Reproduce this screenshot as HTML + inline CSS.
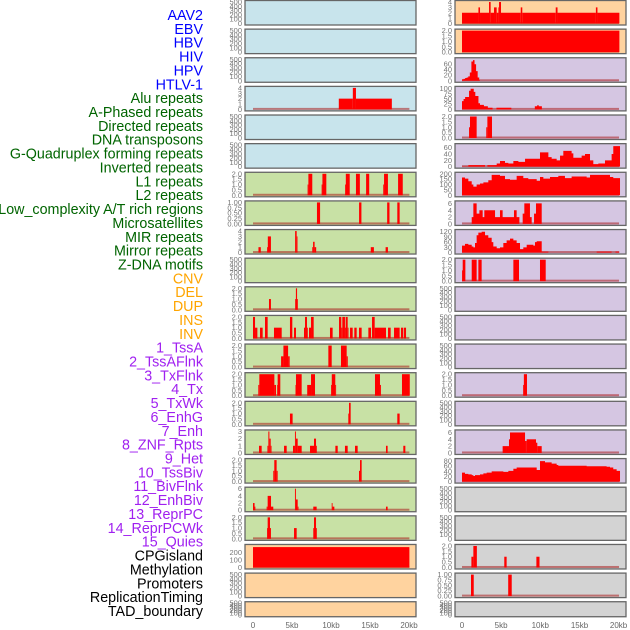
<!DOCTYPE html>
<html><head><meta charset="utf-8"><style>
body{margin:0;background:#fff;width:630px;height:630px;overflow:hidden}
svg{display:block;font-family:"Liberation Sans",sans-serif}
</style></head><body>
<svg id="chart" width="630" height="630"></svg>
<script>
// ---- labels ----
const labels=["AAV2","EBV","HBV","HIV","HPV","HTLV-1","Alu repeats","A-Phased repeats","Directed repeats","DNA transposons","G-Quadruplex forming repeats","Inverted repeats","L1 repeats","L2 repeats","Low_complexity A/T rich regions","Microsatellites","MIR repeats","Mirror repeats","Z-DNA motifs","CNV","DEL","DUP","INS","INV","1_TssA","2_TssAFlnk","3_TxFlnk","4_Tx","5_TxWk","6_EnhG","7_Enh","8_ZNF_Rpts","9_Het","10_TssBiv","11_BivFlnk","12_EnhBiv","13_ReprPC","14_ReprPCWk","15_Quies","CPGisland","Methylation","Promoters","ReplicationTiming","TAD_boundary"];
const labelColors=["#0000ff","#006400","#ffa500","#a020f0","#000000"];
const labelGroupEnds=[6,19,24,39,44];
const xTicks=[0,5,10,15,20];
const xTickLabels=["0","5kb","10kb","15kb","20kb"];
// ---- segment data [startKb,endKb,value] ----
const L3=[[11.0,12.8,2],[12.8,13.2,4],[13.2,17.8,2]];
const L6=[[7.0,7.1,1],[7.1,7.6,2],[8.8,8.9,1],[8.9,9.4,2],[11.8,11.9,1],[11.9,12.4,2],[13.2,13.7,2],[14.5,14.9,2],[16.7,16.8,1],[16.8,17.3,2],[18.6,19.2,2]];
const L7=[[8.2,8.6,1],[13.6,13.9,1],[17.2,17.5,1],[18.5,18.8,1]];
const L8=[[0.7,1.0,1],[1.8,1.9,1],[1.9,2.3,3],[5.4,5.6,4],[5.6,5.7,3],[7.6,7.7,1],[7.7,7.9,2],[7.9,8.1,1],[15.1,15.5,1],[17.0,17.3,1]];
const L10=[[2.05,2.3,1],[5.4,5.5,1],[5.5,5.65,2],[5.65,5.75,1]];
const L11=[[0,0.26,2],[0.26,0.56,1],[0.9,1.24,1],[1.54,1.88,2],[2.69,3.68,1],[4.74,5.04,2],[5.26,5.51,1],[6.54,6.67,1],[6.67,6.92,2],[6.92,7.01,1],[7.18,7.44,1],[7.44,7.78,2],[9.87,10.21,1],[11.03,11.32,2],[11.32,11.45,1],[11.45,11.79,2],[11.79,11.88,1],[11.88,12.14,2],[12.14,12.22,1],[12.44,12.78,1],[12.99,13.29,1],[13.59,13.93,1],[14.79,15.13,1],[15.26,15.6,2],[15.6,17.05,1],[17.31,17.65,1],[18.08,18.8,1],[18.97,19.27,1],[19.36,19.62,1]];
const L12=[[3.6,3.9,1],[3.9,4.5,2],[4.5,4.7,1],[9.66,10.09,2],[11.28,12.01,2],[12.01,12.15,1]];
const L13=[[0.68,0.81,1],[0.81,2.74,2],[2.74,2.95,1],[3.1,3.16,1],[3.16,3.5,2],[5.45,5.51,1],[5.51,6.24,2],[6.95,7.44,1],[7.44,7.95,2],[10.0,10.1,1],[10.1,10.55,2],[10.55,10.64,1],[15.64,16.28,2],[16.28,16.4,1],[19.1,20.1,2]];
const L14=[[4.74,5.08,1],[12.22,12.31,1],[12.31,12.52,2],[18.5,18.8,1]];
const L15=[[0.77,1.11,1],[1.85,1.97,1],[1.97,2.1,3],[2.1,2.27,2],[2.27,2.35,1],[3.98,4.32,1],[5.13,5.38,1],[5.38,5.5,3],[5.5,5.73,2],[5.73,6.24,1],[7.31,7.82,1],[7.82,8.08,2],[8.08,8.16,1],[10.56,10.86,1],[11.79,12.14,1],[13.08,13.42,1],[17.05,17.26,1],[19.27,19.53,1]];
const L16=[[2.6,2.73,1],[2.73,3.03,2],[3.03,3.16,1],[13.59,13.72,1],[13.72,13.93,2]];
const L17=[[0,0.2,2],[0.2,0.3,1],[1.75,1.88,1],[1.88,2.31,4],[2.31,2.6,1],[5.38,5.5,6],[5.5,5.73,3],[5.73,5.8,1],[7.73,8.16,1],[10.09,10.2,2],[10.2,10.43,1],[17.05,17.26,1]];
const L18=[[1.8,1.88,1],[1.88,2.18,2],[2.18,2.3,1],[5.26,5.6,1],[7.73,7.82,1],[7.82,8.08,2],[8.08,8.16,1]];
const L19=[[0,20.05,270]];
const R0=[[0,2.1,2],[2.1,2.3,3],[2.3,3.45,2],[3.45,3.66,4],[3.66,4.09,2],[4.09,4.43,3],[4.43,4.65,2],[4.65,4.73,3],[4.73,4.98,4],[4.98,7.5,2],[7.5,7.7,3],[7.7,11.97,2],[11.97,12.2,3],[12.2,17.1,2],[17.1,17.3,3],[17.3,20.1,2]];
const R1=[[0,20.1,2]];
const R4=[[0.9,1.02,1],[1.02,1.87,2],[3.1,3.24,1],[3.24,3.83,2]];
const R9=[[0,0.09,1],[0.09,0.43,2],[1.24,1.87,2],[2.09,2.51,2],[6.56,7.28,2],[9.96,10.69,2]];
const R13=[[7.8,7.9,1],[7.9,8.3,2]];
const R15=[[5.19,6.0,2],[6.0,6.13,4],[6.13,8.05,6],[8.05,8.26,3.5],[8.26,9.45,4],[9.45,9.62,3],[9.62,10.18,2]];
const R19=[[1.2,1.45,1],[1.45,1.9,2],[5.4,5.7,1],[9.5,9.9,1]];
const R20=[[1.15,1.5,1],[5.9,6.35,1]];
// ---- step-curve data [kb,value] (value holds until next kb) ----
const R2=[[0,5],[0.2,7],[0.4,10],[0.6,12],[0.8,16],[1.0,30],[1.2,70],[1.4,75],[1.6,60],[1.8,35],[2.0,12],[2.2,2],[2.3,0]];
const R3=[[0,40],[0.2,50],[0.4,60],[0.9,90],[1.1,100],[1.5,85],[1.7,65],[2.1,30],[2.3,22],[2.8,15],[3.3,8],[3.9,0],[4.4,8],[6.3,0],[9.3,15],[9.6,20],[9.8,15],[10.2,0]];
const R5=[[0,1],[0.81,5],[2.94,0],[3.24,5],[4.43,10],[4.85,18],[5.49,12],[5.92,10],[6.56,18],[7.2,15],[8.05,25],[9.96,45],[11.03,30],[11.45,25],[12.09,20],[12.52,35],[12.94,50],[14.0,42],[14.22,28],[15.28,35],[15.71,40],[16.35,20],[16.77,8],[17.41,10],[18.26,20],[19.11,40],[19.32,65],[20.18,0]];
const R6=[[0,165],[0.38,155],[0.81,130],[1.24,100],[1.45,80],[1.87,100],[2.3,110],[2.73,120],[3.36,140],[3.79,190],[4.85,180],[5.49,150],[6.13,145],[6.98,180],[7.83,160],[8.47,150],[9.54,135],[9.96,170],[10.39,155],[11.24,170],[12.3,180],[13.15,160],[14.0,175],[15.07,175],[15.92,165],[16.35,190],[18.9,170],[19.32,160],[20.18,0]];
const R7=[[1.24,2],[1.45,6],[1.87,3],[2.22,4],[2.64,2],[2.85,4],[4.22,2],[4.85,4],[5.19,2],[6.64,4],[6.98,2],[7.33,0],[7.75,3],[7.96,6],[8.68,2],[8.9,0],[9.2,3],[9.45,6],[10.18,0]];
const R8=[[0,40],[0.38,50],[0.81,45],[1.24,35],[1.45,30],[1.66,55],[1.87,100],[2.09,115],[2.51,120],[2.94,100],[3.36,85],[3.79,60],[4.0,35],[4.43,25],[4.85,30],[5.28,55],[5.7,70],[6.13,80],[6.56,70],[6.98,55],[7.41,20],[7.83,30],[8.26,45],[8.9,45],[9.11,40],[9.32,60],[9.54,65],[10.18,5],[11.03,0],[17.2,5],[19.11,0],[19.6,5],[20.1,0]];
const R16=[[0,35],[0.38,30],[0.81,28],[1.24,25],[1.45,22],[1.66,25],[2.3,28],[2.73,32],[3.15,35],[3.79,40],[5.28,38],[5.92,42],[6.56,50],[6.98,55],[9.54,45],[9.96,80],[10.6,75],[11.45,70],[12.09,65],[12.3,62],[15.92,60],[18.47,58],[18.9,55],[19.32,48],[19.75,42],[20.18,0]];
// ---- tick arrays ----
const T500=[0,100,200,300,400,500], T2=["0.0","0.5","1.0","1.5","2.0"], T1=["0.00","0.25","0.50","0.75","1.00"], T4=[0,1,2,3,4], T3=[0,1,2,3], T6=[0,2,4,6];
const T60=[0,20,40,60], T100=[0,25,50,75,100], T200=[0,50,100,150,200], T120=[0,30,60,90,120], T80=[0,20,40,60,80], T250=[0,100,200];
const BLUE="#c8e4ec",GREEN="#c8e1a5",ORANGE="#ffd39f",PURPLE="#d5c6e2",GRAY="#d3d3d3";
// tracks: [col,row,bg,ticks,ymax,segs,pts,name]
const tracks=[
[0,0,BLUE,T500,500,null,null,"aav2"],[0,1,BLUE,T500,500,null,null,"ebv"],[0,2,BLUE,T500,500,null,null,"hbv"],
[0,3,BLUE,T4,4,L3,null,"alu"],[0,4,BLUE,T500,500,null,null,"hpv"],[0,5,BLUE,T500,500,null,null,"htlv"],
[0,6,GREEN,T2,2,L6,null,"l1"],[0,7,GREEN,T1,1,L7,null,"low-complexity"],[0,8,GREEN,T4,4,L8,null,"mir"],
[0,9,GREEN,T500,500,null,null,"zdna"],[0,10,GREEN,T2,2,L10,null,"del"],[0,11,GREEN,T2,2,L11,null,"ins"],
[0,12,GREEN,T2,2,L12,null,"tssa"],[0,13,GREEN,T2,2,L13,null,"txflnk"],[0,14,GREEN,T2,2,L14,null,"txwk"],
[0,15,GREEN,T3,3,L15,null,"enh"],[0,16,GREEN,T2,2,L16,null,"het"],[0,17,GREEN,T6,6,L17,null,"bivflnk"],
[0,18,GREEN,T2,2,L18,null,"reprpc"],[0,19,ORANGE,T250,285,L19,null,"cpgisland"],[0,20,ORANGE,T500,500,null,null,"promoters"],[0,21,ORANGE,T500,500,null,null,"tad"],
[1,0,ORANGE,T4,4,R0,null,"aav2"],[1,1,ORANGE,T2,2,R1,null,"ebv"],[1,2,PURPLE,T60,78,null,R2,"hiv"],
[1,3,PURPLE,T100,104,null,R3,"alu"],[1,4,PURPLE,T2,2,R4,null,"directed"],[1,5,PURPLE,T60,68,null,R5,"gquad"],
[1,6,PURPLE,T200,200,null,R6,"l1"],[1,7,PURPLE,T6,6.3,null,R7,"low-complexity"],[1,8,PURPLE,T120,124,null,R8,"mir"],
[1,9,PURPLE,T2,2,R9,null,"zdna"],[1,10,PURPLE,T500,500,null,null,"del"],[1,11,PURPLE,T500,500,null,null,"ins"],
[1,12,PURPLE,T500,500,null,null,"tssa"],[1,13,PURPLE,T2,2,R13,null,"txflnk"],[1,14,PURPLE,T500,500,null,null,"txwk"],
[1,15,PURPLE,T6,6.3,R15,null,"enh"],[1,16,PURPLE,T80,84,null,R16,"het"],[1,17,GRAY,T500,500,null,null,"bivflnk"],
[1,18,GRAY,T500,500,null,null,"reprpc"],[1,19,GRAY,T2,2,R19,null,"cpgisland"],[1,20,GRAY,T1,1,R20,null,"promoters"],[1,21,GRAY,T500,500,null,null,"tad"]
];
const NS="http://www.w3.org/2000/svg";
const svg=document.getElementById("chart");
function mk(tag,attrs,parent){const e=document.createElementNS(NS,tag);for(const k in attrs)e.setAttribute(k,attrs[k]);(parent||svg).appendChild(e);return e;}
// labels
let g=0;
labels.forEach((t,i)=>{while(i>=labelGroupEnds[g])g++;
 const e=mk("text",{x:203,y:(15+i*13.86+5).toFixed(1),"text-anchor":"end","font-size":14.3,fill:labelColors[g]});
 e.textContent=t;
 
 
});
const colX=[245,455],colW=171,x0=[253,462],xk=[7.8,7.83];
function xs(c,kb){return x0[c]+kb*xk[c];}
tracks.forEach(tr=>{
 const [c,r,bg,ticks,ymax,segs,pts,nm]=tr;
 const top=r*28.63+0.5,h=(r===21?15:24.5);
 const grp=mk("g",{});
 
 
 mk("rect",{x:colX[c],y:top,width:colW,height:h,fill:bg,stroke:"#666","stroke-width":1.3},grp);
 const yb=top+h-1.5,yt=top+1.5;
 const ys=v=>yb-(v/ymax)*(yb-yt);
 ticks.forEach(t=>{const v=parseFloat(t);
  const e=mk("text",{x:colX[c]-3,y:(ys(v)+2.5).toFixed(1),"text-anchor":"end","font-size":7.5,fill:"#777"},grp);
  e.textContent=t;
  
  
 });
 if(segs||pts){
  const bl=mk("rect",{x:xs(c,0),y:yb-1.5,width:xs(c,20.05)-xs(c,0),height:2,fill:"rgba(170,30,30,0.55)"},grp);
  
  
 }
 if(segs){segs.forEach(s=>{
  const xa=xs(c,s[0]),xb=xs(c,s[1]),y=ys(s[2]);
  const b=mk("rect",{x:xa.toFixed(2),y:y.toFixed(2),width:Math.max(0.8,xb-xa).toFixed(2),height:(yb-y).toFixed(2),fill:"#ff0000"},grp);
  
  
 });}
 if(pts){
  let d="M"+xs(c,pts[0][0]).toFixed(2)+","+yb;
  for(let i=0;i<pts.length;i++){
   const xa=xs(c,pts[i][0]);const y=ys(pts[i][1]);
   d+=" L"+xa.toFixed(2)+","+y.toFixed(2);
   if(i<pts.length-1)d+=" L"+xs(c,pts[i+1][0]).toFixed(2)+","+y.toFixed(2);
  }
  d+=" L"+xs(c,pts[pts.length-1][0]).toFixed(2)+","+yb+" Z";
  const p=mk("path",{d:d,fill:"#ff0000"},grp);
  
  
 }
});
// x axis ticks
[0,1].forEach(c=>{xTicks.forEach((t,i)=>{
 const e=mk("text",{x:xs(c,t).toFixed(1),y:628,"text-anchor":"middle","font-size":8,fill:"#666"});
 e.textContent=xTickLabels[i];
 
 
});});
</script>
</body></html>
